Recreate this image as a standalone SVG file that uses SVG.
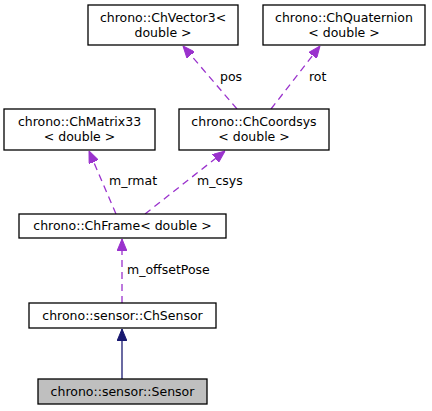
<svg xmlns="http://www.w3.org/2000/svg" width="432" height="411" viewBox="0 0 432 411">
<defs>
<style>
text{font-family:"DejaVu Sans",sans-serif;font-size:12.5px;fill:#000}
.n{text-anchor:middle}
.box{fill:#fff;stroke:#000;stroke-width:1.3}
.cur{fill:#bfbfbf;stroke:#000;stroke-width:1.3}
.dash{fill:none;stroke:#9a32cd;stroke-width:1.3;stroke-dasharray:7,5}
.inh{fill:none;stroke:#191970;stroke-width:1.3}
</style>
<marker id="pa" viewBox="0 0 12 10" refX="12" refY="5" markerWidth="12" markerHeight="10" markerUnits="userSpaceOnUse" orient="auto"><path d="M0,0 L12,5 L0,10 Z" fill="#9a32cd" stroke="#9a32cd"/></marker>
<marker id="ba" viewBox="0 0 12 10" refX="12" refY="5" markerWidth="12" markerHeight="10" markerUnits="userSpaceOnUse" orient="auto"><path d="M0,0 L12,5 L0,10 Z" fill="#191970" stroke="#191970"/></marker>
</defs>
<g id="connectors">
<path class="inh" d="M122,379 V329" marker-end="url(#ba)"/>
<path class="dash" d="M122,303 V239" marker-end="url(#pa)"/>
<path class="dash" d="M116,214 L89,151" marker-end="url(#pa)"/>
<path class="dash" d="M145,214 L225,151" marker-end="url(#pa)"/>
<path class="dash" d="M237,109 L183,46" marker-end="url(#pa)"/>
<path class="dash" d="M271,109 L320,46" marker-end="url(#pa)"/>
<text x="127" y="274">m_offsetPose</text>
<text x="109" y="185">m_rmat</text>
<text x="197" y="185">m_csys</text>
<text x="220" y="81">pos</text>
<text x="309" y="81">rot</text>
</g>
<g id="ChVector3"><rect class="box" x="88" y="5" width="150" height="40"/><text class="n" x="163" y="22">chrono::ChVector3&lt;</text><text class="n" x="163" y="37">double &gt;</text></g>
<g id="ChQuaternion"><rect class="box" x="263" y="5" width="162" height="40"/><text class="n" x="344" y="22">chrono::ChQuaternion</text><text class="n" x="344" y="37">&lt; double &gt;</text></g>
<g id="ChMatrix33"><rect class="box" x="4" y="109" width="151" height="41"/><text class="n" x="79.5" y="126">chrono::ChMatrix33</text><text class="n" x="79.5" y="141">&lt; double &gt;</text></g>
<g id="ChCoordsys"><rect class="box" x="179" y="109" width="150" height="41"/><text class="n" x="254" y="126">chrono::ChCoordsys</text><text class="n" x="254" y="141">&lt; double &gt;</text></g>
<g id="ChFrame"><rect class="box" x="19" y="214" width="207" height="24"/><text class="n" x="122.5" y="230">chrono::ChFrame&lt; double &gt;</text></g>
<g id="ChSensor"><rect class="box" x="29" y="303" width="187" height="25"/><text class="n" x="122.5" y="320">chrono::sensor::ChSensor</text></g>
<g id="Sensor"><rect class="cur" x="38" y="379" width="169" height="25"/><text class="n" x="122.5" y="396">chrono::sensor::Sensor</text></g>
</svg>
